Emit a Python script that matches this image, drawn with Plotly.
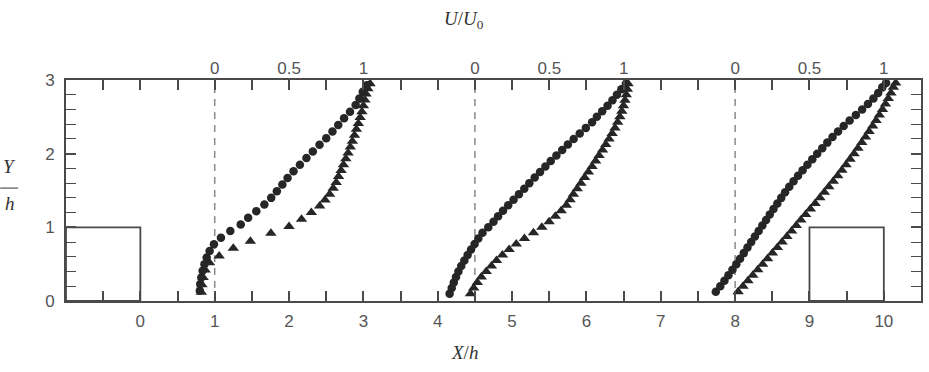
import plotly.graph_objects as go

# ---------------- data ----------------
# profile stations X/h (where U/U0 = 0) and horizontal scale (X/h per unit of U/U0)
stations = [1.0, 4.5, 8.0]
u_scale = 2.0
u_ticks = [0, 0.5, 1]
u_tick_labels = ["0", "0.5", "1"]

x_tick_vals = [0, 1, 2, 3, 4, 5, 6, 7, 8, 9, 10]
x_tick_labels = ["0", "1", "2", "3", "4", "5", "6", "7", "8", "9", "10"]
y_tick_vals = [0, 1, 2, 3]
y_tick_labels = ["0", "1", "2", "3"]

# obstacles (X range, height)
obstacles_x = [[-1.0, 0.0], [9.0, 10.0]]
obstacle_h = 1.0

# profile 1 (X/h = 1)
p1_circ_y = [0.14, 0.23, 0.32, 0.41, 0.50, 0.59, 0.68, 0.77, 0.86, 0.95, 1.04, 1.13, 1.22, 1.31, 1.40, 1.49,
             1.58, 1.67, 1.76, 1.85, 1.94, 2.03, 2.12, 2.21, 2.30, 2.39, 2.48, 2.57, 2.66, 2.75, 2.84, 2.93]
p1_circ_u = [-0.100, -0.097, -0.090, -0.081, -0.069, -0.054, -0.034, -0.005, 0.042, 0.105, 0.175, 0.225,
             0.280, 0.334, 0.380, 0.418, 0.455, 0.490, 0.530, 0.573, 0.617, 0.660, 0.705, 0.750, 0.792,
             0.831, 0.870, 0.910, 0.948, 0.973, 0.996, 1.022]
p1_tri_y = [0.12, 0.22, 0.32, 0.42, 0.52, 0.61, 0.715, 0.81, 0.92, 1.01, 1.11, 1.20, 1.29, 1.37, 1.45, 1.53,
            1.61, 1.69, 1.77, 1.85, 1.93, 2.01, 2.09, 2.17, 2.25, 2.33, 2.41, 2.49, 2.57, 2.65, 2.73, 2.81,
            2.88, 2.95]
p1_tri_u = [-0.090, -0.086, -0.078, -0.064, -0.035, 0.030, 0.125, 0.240, 0.378, 0.500, 0.584, 0.650, 0.706,
            0.742, 0.773, 0.797, 0.817, 0.833, 0.850, 0.866, 0.882, 0.897, 0.912, 0.926, 0.940, 0.953, 0.966,
            0.978, 0.990, 1.000, 1.010, 1.018, 1.030, 1.045]

# profile 2 (X/h = 4.5)
p2_y = [0.100, 0.175, 0.250, 0.325, 0.400, 0.475, 0.550, 0.625, 0.700, 0.775, 0.850, 0.925, 1.000, 1.075,
        1.150, 1.225, 1.300, 1.375, 1.450, 1.525, 1.600, 1.675, 1.750, 1.825, 1.900, 1.975, 2.050, 2.125,
        2.200, 2.275, 2.350, 2.425, 2.500, 2.575, 2.650, 2.725, 2.800, 2.875, 2.950]
p2_circ_u = [-0.170, -0.156, -0.142, -0.127, -0.111, -0.092, -0.071, -0.049, -0.026, -0.002, 0.023, 0.051,
             0.090, 0.125, 0.156, 0.189, 0.224, 0.260, 0.296, 0.332, 0.366, 0.402, 0.438, 0.474, 0.510,
             0.548, 0.587, 0.625, 0.664, 0.705, 0.746, 0.788, 0.820, 0.856, 0.892, 0.925, 0.955, 0.985, 1.015]
p2_tri_u = [-0.030, -0.008, 0.016, 0.043, 0.076, 0.111, 0.145, 0.185, 0.230, 0.278, 0.333, 0.394, 0.450,
            0.499, 0.541, 0.580, 0.615, 0.640, 0.662, 0.688, 0.713, 0.738, 0.763, 0.788, 0.812, 0.835,
            0.858, 0.880, 0.902, 0.923, 0.942, 0.960, 0.975, 0.988, 0.999, 1.009, 1.018, 1.025, 1.030]

# profile 3 (X/h = 8)
p3_y = [0.125, 0.200, 0.275, 0.350, 0.425, 0.500, 0.575, 0.650, 0.725, 0.800, 0.875, 0.950, 1.025, 1.100,
        1.175, 1.250, 1.325, 1.400, 1.475, 1.550, 1.625, 1.700, 1.775, 1.850, 1.925, 2.000, 2.075, 2.150,
        2.225, 2.300, 2.375, 2.450, 2.525, 2.600, 2.675, 2.750, 2.825, 2.900, 2.960]
p3_circ_u = [-0.130, -0.100, -0.072, -0.045, -0.018, 0.008, 0.033, 0.058, 0.083, 0.108, 0.133, 0.158, 0.183,
             0.208, 0.233, 0.258, 0.284, 0.310, 0.336, 0.364, 0.393, 0.423, 0.454, 0.486, 0.519, 0.552,
             0.586, 0.620, 0.655, 0.692, 0.730, 0.770, 0.812, 0.854, 0.893, 0.930, 0.962, 0.990, 1.015]
p3_tri_u = [0.020, 0.053, 0.086, 0.119, 0.152, 0.185, 0.218, 0.251, 0.284, 0.316, 0.348, 0.380, 0.411, 0.442,
            0.474, 0.506, 0.538, 0.570, 0.600, 0.630, 0.660, 0.690, 0.718, 0.746, 0.773, 0.800, 0.826, 0.852,
            0.877, 0.901, 0.925, 0.948, 0.970, 0.991, 1.011, 1.030, 1.048, 1.064, 1.080]

# ---------------- figure ----------------
MARK = "#262626"
AXIS = "#4a4a4a"
TICKF = dict(family="Liberation Sans, Arial, sans-serif", size=17, color="#555555")
MATHF = dict(family="Liberation Serif, Times New Roman, serif", size=19, color="#333333")

fig = go.Figure()

series = [
    (stations[0], p1_circ_y, p1_circ_u, "circle", 8.5),
    (stations[0], p1_tri_y, p1_tri_u, "triangle-up", 10),
    (stations[1], p2_y, p2_circ_u, "circle", 8.5),
    (stations[1], p2_y, p2_tri_u, "triangle-up", 10),
    (stations[2], p3_y, p3_circ_u, "circle", 8.5),
    (stations[2], p3_y, p3_tri_u, "triangle-up", 10),
]
for st, ys, us, sym, sz in series:
    fig.add_trace(go.Scatter(
        x=[st + u * u_scale for u in us], y=ys, mode="markers",
        marker=dict(symbol=sym, size=sz, color=MARK, line=dict(width=0)),
        showlegend=False, hoverinfo="skip"))

# invisible trace to anchor the top axis
fig.add_trace(go.Scatter(x=[stations[0]], y=[0], xaxis="x2", mode="markers",
                         marker=dict(opacity=0), showlegend=False, hoverinfo="skip"))

# dashed zero lines
for st in stations:
    fig.add_shape(type="line", x0=st, x1=st, y0=0, y1=3, xref="x", yref="y",
                  line=dict(color="#8a8a8a", width=1.5, dash="7px,6px"), layer="below")

# obstacles
for ox in obstacles_x:
    fig.add_shape(type="rect", x0=ox[0], x1=ox[1], y0=0, y1=obstacle_h, xref="x", yref="y",
                  line=dict(color=AXIS, width=1.8), fillcolor="rgba(0,0,0,0)")

x_range = [-1.0, 10.5]

top_vals, top_text = [], []
for st in stations:
    for u, t in zip(u_ticks, u_tick_labels):
        top_vals.append(st + u * u_scale)
        top_text.append(t)

fig.update_layout(
    width=929, height=372,
    margin=dict(l=66, r=6, t=80, b=71),
    paper_bgcolor="white", plot_bgcolor="white",
    xaxis=dict(range=x_range, tickvals=x_tick_vals, ticktext=x_tick_labels, ticks="inside", ticklen=10,
               tickwidth=1.5, tickcolor=AXIS, showline=True, linecolor=AXIS, linewidth=2,
               mirror="allticks", showgrid=False, zeroline=False, tickfont=TICKF, ticklabelstandoff=4,
               minor=dict(tick0=0, dtick=0.5, ticks="inside", ticklen=10, tickwidth=1.5, tickcolor=AXIS,
                          showgrid=False)),
    xaxis2=dict(range=x_range, overlaying="x", side="top", tickvals=top_vals, ticktext=top_text,
                ticks="", showline=False, showgrid=False, zeroline=False, tickfont=TICKF,
                ticklabelstandoff=2),
    yaxis=dict(range=[0, 3], tickvals=y_tick_vals, ticktext=y_tick_labels, ticks="inside", ticklen=10,
               tickwidth=1.5, tickcolor=AXIS, showline=True, linecolor=AXIS, linewidth=2, mirror="allticks",
               showgrid=False, zeroline=False, tickfont=TICKF, ticklabelstandoff=6,
               minor=dict(dtick=0.2, ticks="inside", ticklen=5, tickwidth=1, tickcolor=AXIS, showgrid=False)),
)

fig.add_annotation(text="<i>U</i>/<i>U</i><sub>0</sub>", x=0.466, y=1.271, xref="paper", yref="paper",
                   showarrow=False, font=MATHF, xanchor="center", yanchor="middle")
fig.add_annotation(text="<i>X</i>/<i>h</i>", x=0.466, y=-0.231, xref="paper", yref="paper",
                   showarrow=False, font=MATHF, xanchor="center", yanchor="middle")
fig.add_annotation(text="<i>Y</i>", x=-0.066, y=0.61, xref="paper", yref="paper",
                   showarrow=False, font=MATHF, xanchor="center", yanchor="middle")
fig.add_annotation(text="<i>h</i>", x=-0.066, y=0.44, xref="paper", yref="paper",
                   showarrow=False, font=MATHF, xanchor="center", yanchor="middle")
fig.add_shape(type="line", xref="paper", yref="paper", x0=-0.077, x1=-0.056, y0=0.511, y1=0.511,
              line=dict(color="#333333", width=1))

fig.write_html("out.html")
